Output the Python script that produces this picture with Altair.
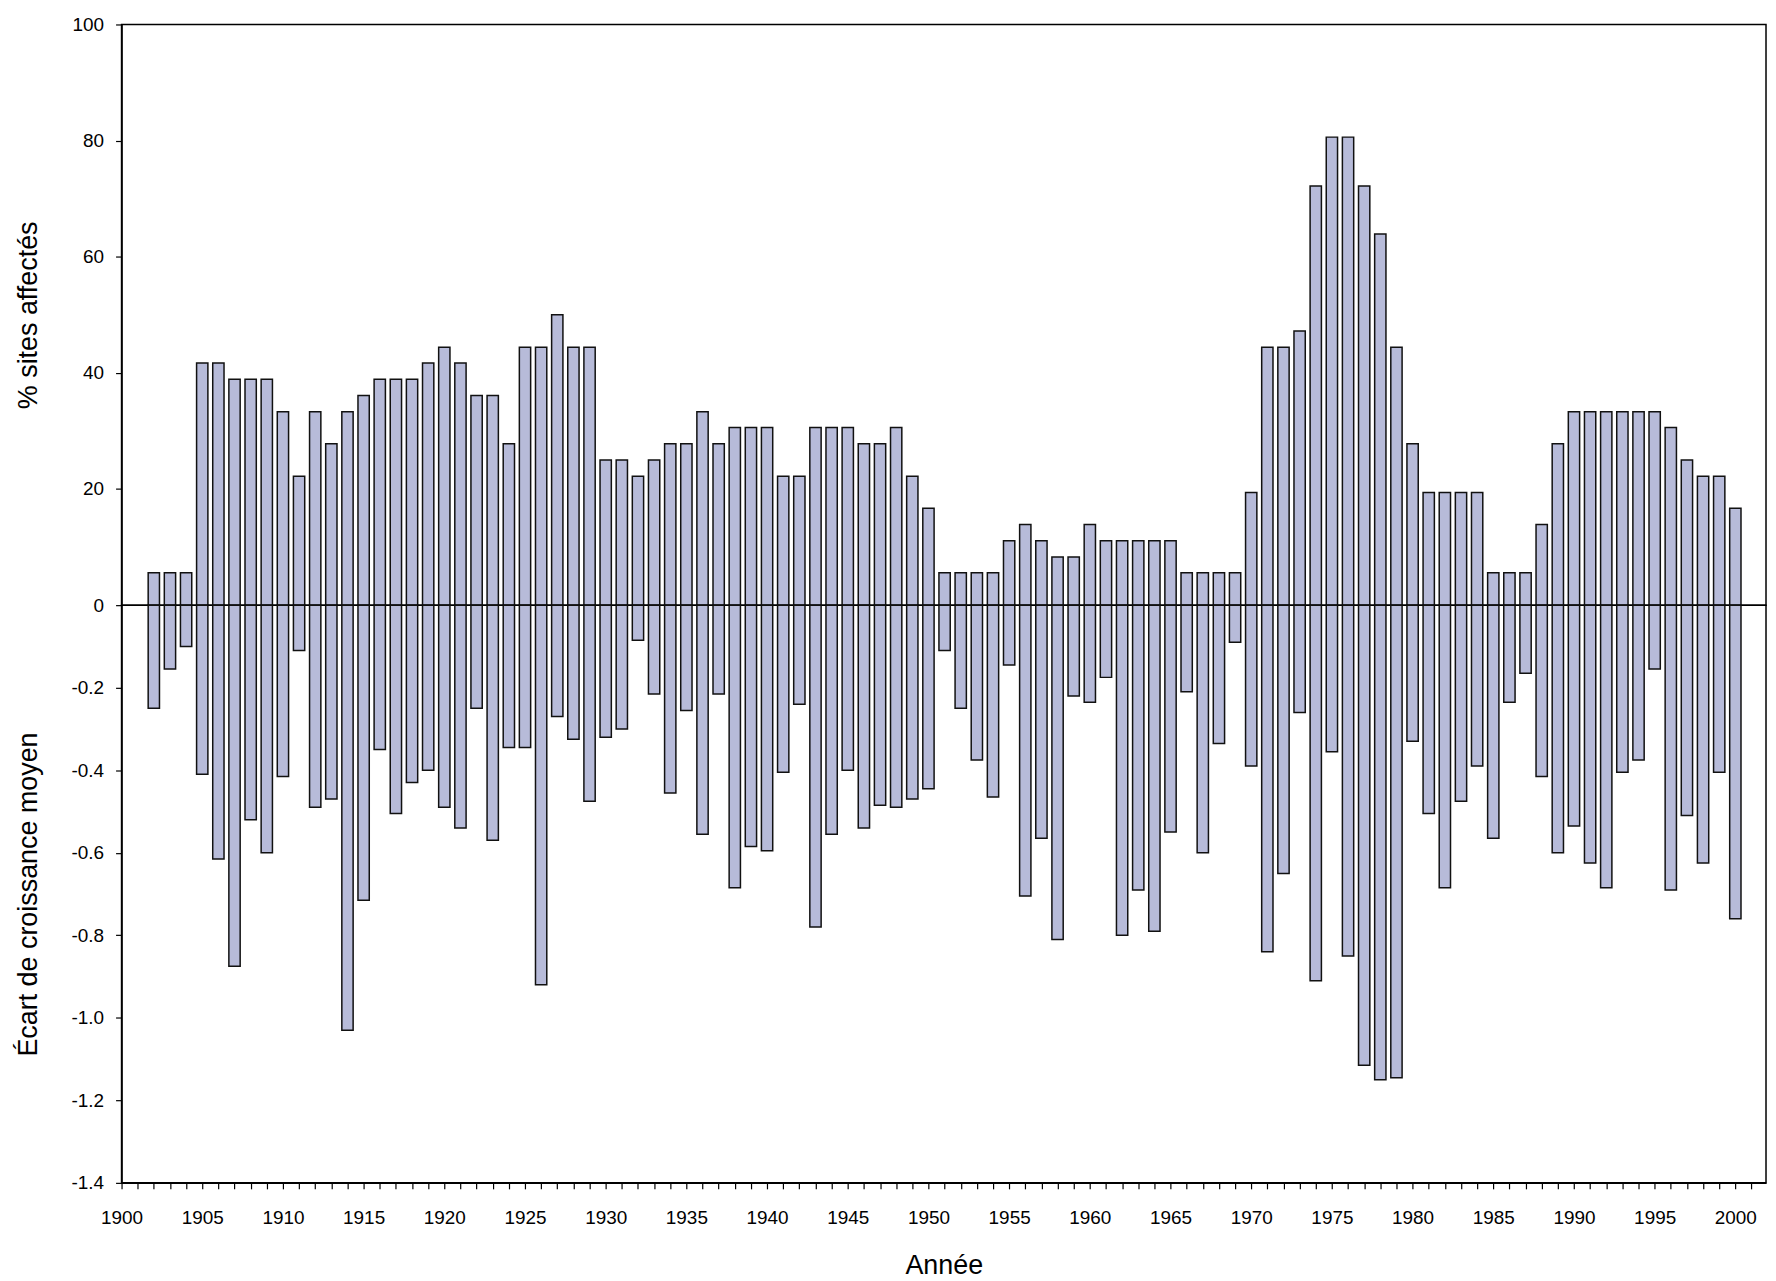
import altair as alt
import pandas as pd

# ---- data ----
years = list(range(1902, 2001))

pct_sites = [
    5.6, 5.6, 5.6, 41.7, 41.7, 38.9, 38.9, 38.9, 33.3,            # 1902-1910
    22.2, 33.3, 27.8, 33.3, 36.1, 38.9, 38.9, 38.9, 41.7, 44.4,   # 1911-1920
    41.7, 36.1, 36.1, 27.8, 44.4, 44.4, 50.0, 44.4, 44.4, 25.0,   # 1921-1930
    25.0, 22.2, 25.0, 27.8, 27.8, 33.3, 27.8, 30.6, 30.6, 30.6,   # 1931-1940
    22.2, 22.2, 30.6, 30.6, 30.6, 27.8, 27.8, 30.6, 22.2, 16.7,   # 1941-1950
    5.6, 5.6, 5.6, 5.6, 11.1, 13.9, 11.1, 8.3, 8.3, 13.9,         # 1951-1960
    11.1, 11.1, 11.1, 11.1, 11.1, 5.6, 5.6, 5.6, 5.6, 19.4,       # 1961-1970
    44.4, 44.4, 47.2, 72.2, 80.6, 80.6, 72.2, 63.9, 44.4, 27.8,   # 1971-1980
    19.4, 19.4, 19.4, 19.4, 5.6, 5.6, 5.6, 13.9, 27.8, 33.3,      # 1981-1990
    33.3, 33.3, 33.3, 33.3, 33.3, 30.6, 25.0, 22.2, 22.2, 16.7,   # 1991-2000
]

ecart = [
    -0.25, -0.155, -0.10, -0.41, -0.615, -0.875, -0.52, -0.60, -0.415,          # 1902-1910
    -0.11, -0.49, -0.47, -1.03, -0.715, -0.35, -0.505, -0.43, -0.40, -0.49,     # 1911-1920
    -0.54, -0.25, -0.57, -0.345, -0.345, -0.92, -0.27, -0.325, -0.475, -0.32,   # 1921-1930
    -0.30, -0.085, -0.215, -0.455, -0.255, -0.555, -0.215, -0.685, -0.585, -0.595,  # 1931-1940
    -0.405, -0.24, -0.78, -0.555, -0.40, -0.54, -0.485, -0.49, -0.47, -0.445,   # 1941-1950
    -0.11, -0.25, -0.375, -0.465, -0.145, -0.705, -0.565, -0.81, -0.22, -0.235, # 1951-1960
    -0.175, -0.80, -0.69, -0.79, -0.55, -0.21, -0.60, -0.335, -0.09, -0.39,     # 1961-1970
    -0.84, -0.65, -0.26, -0.91, -0.355, -0.85, -1.115, -1.15, -1.145, -0.33,    # 1971-1980
    -0.505, -0.685, -0.475, -0.39, -0.565, -0.235, -0.165, -0.415, -0.60, -0.535,  # 1981-1990
    -0.625, -0.685, -0.405, -0.375, -0.155, -0.69, -0.51, -0.625, -0.405, -0.76,   # 1991-2000
]

x_ticks = list(range(1900, 2002))
y_top_ticks = [0, 20, 40, 60, 80, 100]
y_bot_ticks = [-0.2, -0.4, -0.6, -0.8, -1.0, -1.2, -1.4]

df = pd.DataFrame({"year": years, "pct": pct_sites, "ecart": ecart})

FONT = "Liberation Sans"
FILL = "#b7bbd9"
W = 1651
H_TOP = 583
H_BOT = 580
LABEL_FS = 19
TITLE_FS = 27

xscale = alt.Scale(domain=[1900, 2001.9], nice=False, zero=False)

base = alt.Chart(df).transform_calculate(
    x0="datum.year - 0.35", x1="datum.year + 0.35"
)

bar_style = dict(fill=FILL, stroke="#111111", strokeWidth=1.5)

top = base.mark_bar(**bar_style).encode(
    x=alt.X("x0:Q", scale=xscale, axis=None),
    x2="x1:Q",
    y=alt.Y(
        "pct:Q",
        scale=alt.Scale(domain=[0, 100], nice=False),
        axis=alt.Axis(
            values=y_top_ticks, format="d", title="% sites affectés",
            tickSize=6, labelPadding=12, minExtent=55, maxExtent=55,
            titlePadding=24,
        ),
    ),
    y2=alt.datum(0),
).properties(width=W, height=H_TOP)

bottom = base.mark_bar(**bar_style).encode(
    x=alt.X(
        "x0:Q", scale=xscale,
        axis=alt.Axis(
            values=x_ticks, format="d",
            labelExpr="datum.value % 5 === 0 ? datum.label : ''",
            labelOverlap=False, labelFlush=False, tickSize=6, labelPadding=20,
            title="Année", titlePadding=25,
        ),
    ),
    x2="x1:Q",
    y=alt.Y(
        "ecart:Q",
        scale=alt.Scale(domain=[-1.4, 0], nice=False),
        axis=alt.Axis(
            values=y_bot_ticks,
            labelExpr="'-' + format(-datum.value, '.1f')",
            title="Écart de croissance moyen",
            tickSize=6, labelPadding=12, minExtent=55, maxExtent=55,
            titlePadding=24,
        ),
    ),
    y2=alt.datum(0),
).properties(width=W, height=H_BOT)

chart = (
    alt.vconcat(top, bottom, spacing=0, bounds="flush")
    .properties(padding={"left": 6, "top": 4, "right": 1, "bottom": 1})
    .configure(font=FONT)
    .configure_view(stroke="black", strokeWidth=1.5)
    .configure_axis(
        grid=False,
        domainColor="black", domainWidth=1.5,
        tickColor="black", tickWidth=1.2,
        labelColor="black", titleColor="black",
        labelFont=FONT, titleFont=FONT,
        labelFontSize=LABEL_FS, titleFontSize=TITLE_FS,
        titleFontWeight="normal",
    )
)

chart.save("out.html", embed_options={"renderer": "svg", "actions": False})
